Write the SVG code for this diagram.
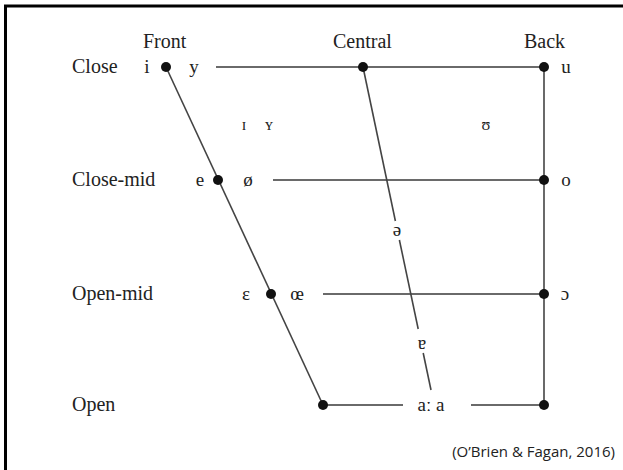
<svg xmlns="http://www.w3.org/2000/svg" width="623" height="470" viewBox="0 0 623 470">
<style>
.t{font-family:"Liberation Serif","DejaVu Serif",serif;font-size:20px;fill:#222}
.v{font-family:"Liberation Serif","DejaVu Serif",serif;font-size:19px;fill:#222}
.s{font-family:"Liberation Serif","DejaVu Serif",serif;font-size:16px;fill:#222}
.c{font-family:"Open Sans","Liberation Sans",sans-serif;font-size:15px;fill:#222}
.h{stroke:#6a6a6a;stroke-width:1.8;fill:none}
.d{stroke:#444;stroke-width:1.6;fill:none}
.dot{fill:#111}
</style>
<rect width="623" height="470" fill="#fff"/>
<g id="frame"><path d="M5.5 470 V6 H623" stroke="#000" stroke-width="3" fill="none"/></g>
<g id="connectors">
<line class="h" x1="216" y1="67" x2="544" y2="67"/>
<line class="h" x1="273" y1="180" x2="544" y2="180"/>
<line class="h" x1="323" y1="294" x2="544" y2="294"/>
<line class="h" x1="323" y1="405" x2="403" y2="405"/>
<line class="h" x1="471" y1="405" x2="544" y2="405"/>
<line class="d" x1="544" y1="67" x2="544" y2="405"/>
<line class="d" x1="166" y1="67" x2="323" y2="405"/>
<line class="d" x1="363" y1="67" x2="395.4" y2="221"/>
<line class="d" x1="399.4" y1="240" x2="418.2" y2="329"/>
<line class="d" x1="423.2" y1="353" x2="431" y2="390"/>
</g>
<g id="headers">
<text class="t" x="143" y="48">Front</text>
<text class="t" x="333" y="48">Central</text>
<text class="t" x="524" y="48">Back</text>
</g>
<g id="row-close">
<text class="t" x="72" y="73">Close</text>
<text class="v" x="147" y="73" text-anchor="middle">i</text>
<circle class="dot" cx="166" cy="67" r="5"/>
<text class="v" x="194" y="73" text-anchor="middle">y</text>
<circle class="dot" cx="363" cy="67" r="5"/>
<circle class="dot" cx="544" cy="67" r="5"/>
<text class="v" x="566" y="73" text-anchor="middle">u</text>
</g>
<g id="near-close">
<text class="s" x="244" y="130" text-anchor="middle">ɪ</text>
<text class="s" x="269" y="130" text-anchor="middle">ʏ</text>
<text class="s" x="486" y="130" text-anchor="middle">ʊ</text>
</g>
<g id="row-close-mid">
<text class="t" x="72" y="186">Close-mid</text>
<text class="v" x="200" y="186" text-anchor="middle">e</text>
<circle class="dot" cx="218" cy="180" r="5"/>
<text class="v" x="248" y="186" text-anchor="middle">ø</text>
<circle class="dot" cx="544" cy="180" r="5"/>
<text class="v" x="566" y="186" text-anchor="middle">o</text>
</g>
<g id="schwa"><text class="v" x="397" y="236" text-anchor="middle">ə</text></g>
<g id="row-open-mid">
<text class="t" x="72" y="300">Open-mid</text>
<text class="v" x="246" y="300" text-anchor="middle">ɛ</text>
<circle class="dot" cx="271" cy="294" r="5"/>
<text class="v" x="297" y="300" text-anchor="middle">œ</text>
<circle class="dot" cx="544" cy="294" r="5"/>
<text class="v" x="565" y="300" text-anchor="middle">ɔ</text>
</g>
<g id="near-open"><text class="v" x="422" y="349" text-anchor="middle">ɐ</text></g>
<g id="row-open">
<text class="t" x="72" y="411">Open</text>
<circle class="dot" cx="323" cy="405" r="5"/>
<text class="v" x="431" y="411" text-anchor="middle">aː a</text>
<circle class="dot" cx="544" cy="405" r="5"/>
</g>
<g id="citation"><text class="c" x="615" y="457" text-anchor="end">(O’Brien &amp; Fagan, 2016)</text></g>
</svg>
